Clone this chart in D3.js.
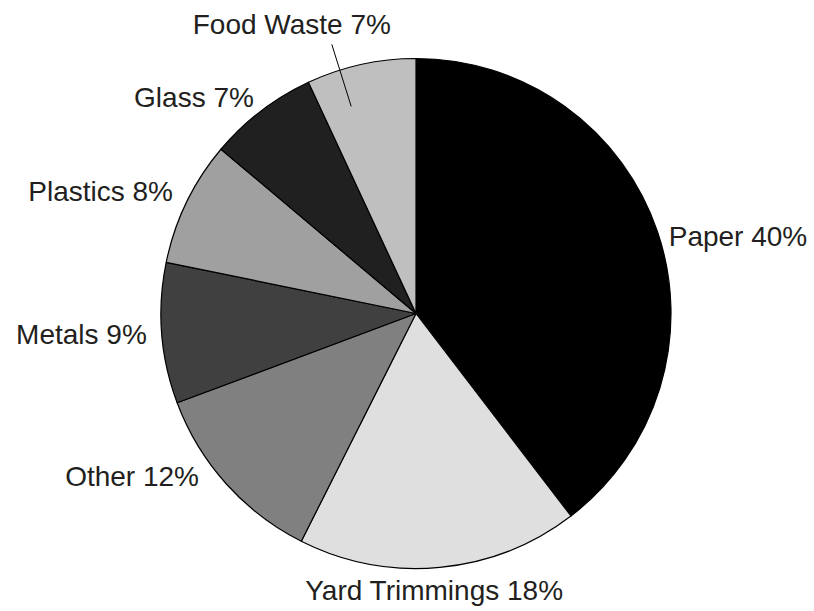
<!DOCTYPE html>
<html>
<head>
<meta charset="utf-8">
<script src="https://cdn.jsdelivr.net/npm/d3@7"></script>
<style>
  html, body { margin: 0; padding: 0; background: #fff; }
  svg { display: block; }
  text { font-family: "Liberation Sans", Arial, Helvetica, sans-serif; fill: #231f20; }
</style>
</head>
<body>
<div class="svg-wrapper"></div>
<script>
// slice data, clockwise from 12 o'clock
var categories = ["Paper", "Yard Trimmings", "Other", "Metals", "Plastics", "Glass", "Food Waste"];
var values     = [40, 18, 12, 9, 8, 7, 7];
var shades     = ["#000000", "#dfdfdf", "#808080", "#404040", "#a0a0a0", "#202020", "#bfbfbf"];

var width  = 814,
    height = 611,
    cx = 416, cy = 313.5,
    radius = 255,
    labelR = 270,
    fontSize = 28;

// hand placement tweaks for labels (layout only)
var nudge = {
  "Paper":          [-3, 9],
  "Yard Trimmings": [0, -6],
  "Other":          [-16, -18],
  "Metals":         [0, 0],
  "Plastics":       [0, -5],
  "Glass":          [2, -2]
};

var svg = d3.select(".svg-wrapper").append("svg")
  .attr("width", width)
  .attr("height", height);

var slices = categories.map(function (c, i) {
  return {name: c, value: values[i], color: shades[i]};
});

var pie = d3.pie()
  .sort(null)
  .value(function (d) { return d.value; });

var arc = d3.arc().innerRadius(0).outerRadius(radius);

var g = svg.append("g").attr("transform", "translate(" + cx + "," + cy + ")");

var arcs = pie(slices);

g.selectAll("path.slice")
  .data(arcs)
  .enter().append("path")
  .attr("class", "slice")
  .attr("d", arc)
  .attr("fill", function (d) { return d.data.color; })
  .attr("stroke", "#000")
  .attr("stroke-width", 1.2)
  .attr("stroke-linejoin", "round");

function polar(a, r) {
  return [r * Math.sin(a), -r * Math.cos(a)];
}

var capH = fontSize * 0.716;

arcs.forEach(function (d) {
  var mid = (d.startAngle + d.endAngle) / 2;
  var label = d.data.name + " " + d.data.value + "%";
  var t = g.append("text").attr("font-size", fontSize + "px").text(label);

  if (d.data.name == "Food Waste") {
    // small slice at the top: label sits above with a leader line
    var a = mid - 4.9 * Math.PI / 180;
    var p0 = polar(a, 217), p1 = polar(a, 282);
    g.append("line")
      .attr("x1", p0[0]).attr("y1", p0[1])
      .attr("x2", p1[0]).attr("y2", p1[1])
      .attr("stroke", "#000")
      .attr("stroke-width", 1);
    t.attr("text-anchor", "middle")
      .attr("x", p1[0] - 40)
      .attr("y", p1[1] - 10);
    return;
  }

  var p = polar(mid, labelR);
  var n = nudge[d.data.name] || [0, 0];
  var sx = Math.sin(mid);
  if (Math.abs(sx) < 0.3) {
    // near the bottom: hang the label under the point
    t.attr("text-anchor", "middle")
      .attr("x", p[0] - 7 + n[0])
      .attr("y", p[1] + capH + 4 + n[1]);
  } else {
    t.attr("text-anchor", sx > 0 ? "start" : "end")
      .attr("x", p[0] + n[0])
      .attr("y", p[1] + capH / 2 + n[1]);
  }
});
</script>
</body>
</html>
